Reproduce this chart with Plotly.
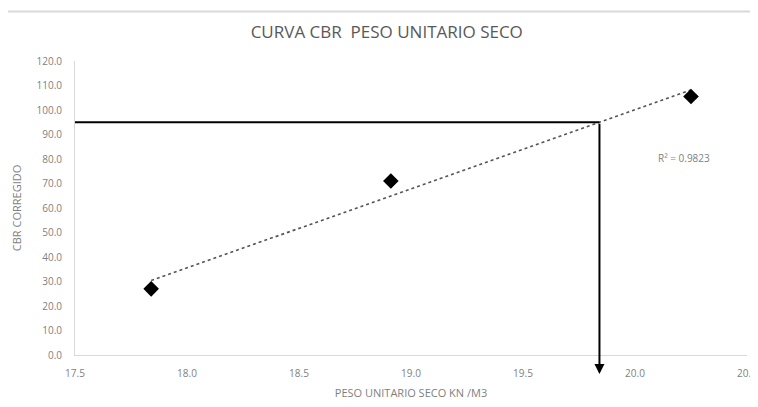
import numpy as np
import plotly.graph_objects as go

# Data
peso_seco = [17.84, 18.91, 20.25]       # KN/M3
cbr_corregido = [27.0, 71.0, 105.5]
cbr_lectura = 95.0                       # design CBR read-off
x_ticks = [17.5, 18.0, 18.5, 19.0, 19.5, 20.0, 20.5]
y_ticks = [0, 10, 20, 30, 40, 50, 60, 70, 80, 90, 100, 110, 120]
r2_text = "R² = 0.9823"

# Linear trend line
slope, intercept = np.polyfit(peso_seco, cbr_corregido, 1)
xt = [min(peso_seco), max(peso_seco)]
yt = [slope * v + intercept for v in xt]
x_lectura = (cbr_lectura - intercept) / slope

gray = "#7f7f7f"
font = "Open Sans"

W, H = 750, 399
M = dict(l=67, r=11, t=53, b=52)
plot_h = H - M["t"] - M["b"]

fig = go.Figure()
fig.add_trace(go.Scatter(x=xt, y=yt, mode="lines",
                         line=dict(color="#555555", width=1.6, dash="dot"),
                         showlegend=False, hoverinfo="skip"))
fig.add_trace(go.Scatter(x=peso_seco, y=cbr_corregido, mode="markers",
                         marker=dict(symbol="diamond", size=12, color="black"),
                         showlegend=False))
fig.add_trace(go.Scatter(x=[x_ticks[0], x_lectura], y=[cbr_lectura, cbr_lectura],
                         mode="lines", line=dict(color="black", width=2.2),
                         showlegend=False, hoverinfo="skip"))

head_paper = -0.065
fig.add_annotation(x=x_lectura, xref="x", y=head_paper, yref="paper",
                   ax=0, ay=-(cbr_lectura / y_ticks[-1] - head_paper) * plot_h,
                   axref="pixel", ayref="pixel", text="", showarrow=True,
                   arrowhead=2, arrowsize=1, arrowwidth=2, arrowcolor="black")
fig.add_annotation(x=20.22, y=80.5, xref="x", yref="y", text=r2_text,
                   showarrow=False, font=dict(family=font, size=10, color=gray))

fig.add_shape(type="line", xref="paper", yref="paper", x0=-0.12, x1=1.03,
              y0=1.168, y1=1.168, line=dict(color="#d9d9d9", width=2))

fig.update_layout(
    width=W, height=H,
    margin=M,
    paper_bgcolor="white", plot_bgcolor="white",
    title=dict(text="CURVA CBR  PESO UNITARIO SECO", x=0.505, xanchor="center",
               y=1 - 24 / H, yanchor="middle",
               font=dict(family=font, size=17, color="#595959")),
    font=dict(family=font, color=gray),
    xaxis=dict(range=[x_ticks[0], x_ticks[-1]], tickvals=x_ticks,
               ticktext=[f"{v:.1f}" for v in x_ticks], showgrid=False,
               zeroline=False, showline=True, linecolor="#d9d9d9", linewidth=1,
               ticks="outside", ticklen=9, tickcolor="rgba(0,0,0,0)",
               automargin=False, ticklabeloverflow="allow",
               tickfont=dict(size=10, color=gray),
               title=dict(text="PESO UNITARIO SECO KN /M3", standoff=10,
                          font=dict(size=11, color=gray))),
    yaxis=dict(range=[y_ticks[0], y_ticks[-1]], tickvals=y_ticks,
               ticktext=[f"{v:.1f}" for v in y_ticks], showgrid=False,
               zeroline=False, showline=True, linecolor="#d9d9d9", linewidth=1,
               ticks="outside", ticklen=10, tickcolor="rgba(0,0,0,0)",
               automargin=False,
               tickfont=dict(size=10, color=gray),
               title=dict(text="CBR CORREGIDO", standoff=12,
                          font=dict(size=11, color=gray))),
)

fig.write_html("out.html")
